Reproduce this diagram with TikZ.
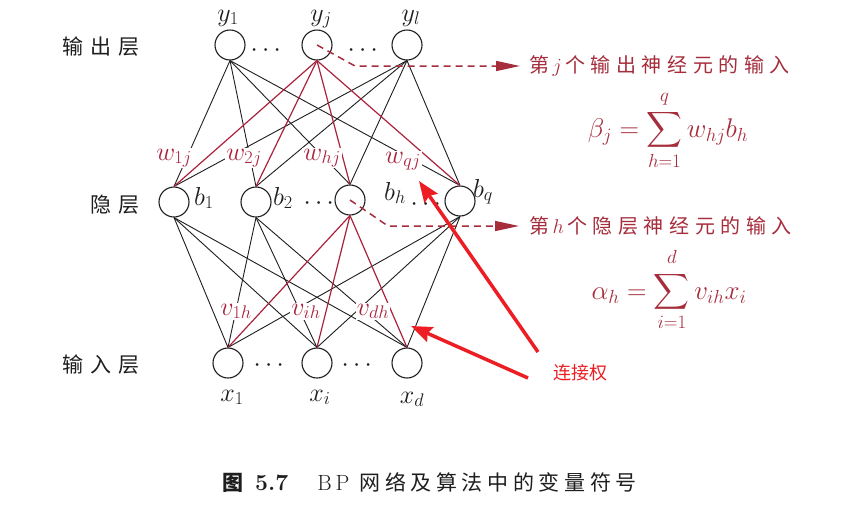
\RequirePackage{fix-cm}
\documentclass[tikz,border=0pt]{standalone}
\usepackage{fontspec}
\usepackage{amsmath}
\newfontfamily\cjkn{Noto Sans CJK SC}
\newfontfamily\cjka[LetterSpace=28]{Noto Sans CJK SC}
\newfontfamily\cjkl[LetterSpace=33]{Noto Sans CJK SC}
\newfontfamily\cjkc[LetterSpace=22]{Noto Sans CJK SC}
\usetikzlibrary{arrows.meta}
\definecolor{netred}{RGB}{170,35,60}
\definecolor{annred}{RGB}{165,45,60}
\definecolor{brightred}{RGB}{236,30,36}
\definecolor{ink}{RGB}{30,30,30}
\begin{document}
\begin{tikzpicture}[x=1pt,y=-1pt,
  neuron/.style={circle,draw=ink,line width=1.1pt,minimum size=30pt,inner sep=0pt},
  edge/.style={draw=ink,line width=0.9pt},
  redge/.style={draw=netred,line width=1.2pt},
  mlab/.style={font=\fontsize{26}{30}\selectfont,text=ink,inner sep=0pt,anchor=base},
  wlab/.style={font=\fontsize{26}{30}\selectfont,text=netred,fill=white,inner sep=1pt,anchor=base},
  dashedarrow/.style={draw=annred,line width=1.5pt,dash pattern=on 7pt off 5pt,-{Triangle[length=24pt,width=10pt]}},
  bigarrow/.style={draw=brightred,line width=3.5pt,-{Stealth[length=21pt,width=16pt,inset=3pt]}},
  layerlab/.style={font=\cjkl\fontsize{21}{24}\selectfont,text=ink,anchor=west,inner sep=0pt},
  anntext/.style={font=\cjka\fontsize{20}{24}\selectfont,text=annred,anchor=west,inner sep=0pt},
  formula/.style={text=annred,font=\fontsize{27}{30}\selectfont,anchor=base,inner sep=0pt}
]
\useasboundingbox (0,0) rectangle (841,507);
\fill[white] (0,0) rectangle (841,507);

% neurons
\node[neuron] (y1) at (230,45) {};
\node[neuron] (yj) at (317,45) {};
\node[neuron] (yl) at (407,45) {};
\node[neuron] (b1) at (174,202) {};
\node[neuron] (b2) at (256,202) {};
\node[neuron] (bh) at (350,200) {};
\node[neuron] (bq) at (460,201) {};
\node[neuron] (x1) at (228,363) {};
\node[neuron] (xi) at (317,363) {};
\node[neuron] (xd) at (407,363) {};

% edges
\foreach \o in {y1,yl} \foreach \h in {b1,b2,bh,bq} \draw[edge] (\o.south) -- (\h.north);
\foreach \h in {b1,b2,bq} \foreach \i in {x1,xi,xd} \draw[edge] (\h.south) -- (\i.north);
\foreach \h in {b1,b2,bh,bq} \draw[redge] (yj.south) -- (\h.north);
\foreach \i in {x1,xi,xd} \draw[redge] (bh.south) -- (\i.north);

% weight labels
\node[wlab] (w1) at (174,160) {$w_{1j}$};
\node[wlab] (w2) at (244,160) {$w_{2j}$};
\node[wlab] (wh) at (322,160) {$w_{hj}$};
\node[wlab] (wq) at (403,163) {$w_{qj}$};
\node[wlab] (v1) at (236,315) {$v_{1h}$};
\node[wlab] (vi) at (306,315) {$v_{ih}$};
\node[wlab] (vd) at (373,315) {$v_{dh}$};

% node labels
\node[mlab] (ly1) at (228,21) {$y_1$};
\node[mlab] (lyj) at (321,21) {$y_j$};
\node[mlab] (lyl) at (411,21) {$y_l$};
\node[mlab] (lb1) at (204,205) {$b_1$};
\node[mlab] (lb2) at (283,205) {$b_2$};
\node[mlab] (lbh) at (395,200) {$b_h$};
\node[mlab] (lbq) at (483,197) {$b_q$};
\node[mlab] (lx1) at (232,401) {$x_1$};
\node[mlab] (lxi) at (320,401) {$x_i$};
\node[mlab] (lxd) at (412,403) {$x_d$};

% dots
\node[mlab] (d1) at (268,56) {$\cdots$};
\node[mlab] (d2) at (365,56) {$\cdots$};
\node[mlab] (d3) at (321,209) {$\cdots$};
\node[mlab] (d4) at (428,210) {$\cdots$};
\node[mlab] (d5) at (271,371) {$\cdots$};
\node[mlab] (d6) at (359,371) {$\cdots$};

% layer labels
\node[layerlab] (L1) at (62,47) {输出层};
\node[layerlab] (L2) at (90,205) {隐层};
\node[layerlab] (L3) at (62,365) {输入层};

% dashed annotation arrows
\coordinate (k1) at (355,66);
\coordinate (t1) at (520,66);
\draw[dashedarrow] (yj.center) -- (k1) -- (t1);
\coordinate (k2) at (388,226);
\coordinate (t2) at (519,226);
\draw[dashedarrow] (bh.center) -- (k2) -- (t2);

\node[anntext] (a1) at (529,66) {第\,$j$\,个输出神经元的输入};
\node[anntext] (a2) at (529,226) {第\,$h$\,个隐层神经元的输入};

\node[formula] (f1) at (668,137) {$\displaystyle \beta_j=\sum_{h=1}^{\raisebox{4pt}{$\scriptstyle q$}} w_{hj}b_h$};
\node[formula] (f2) at (669,299) {$\displaystyle \alpha_h=\sum_{i=1}^{\raisebox{4pt}{$\scriptstyle d$}} v_{ih}x_i$};

% red arrows
\coordinate (ra1s) at (538,352);
\coordinate (ra1t) at (419,181);
\coordinate (ra2s) at (528,378);
\coordinate (ra2t) at (411,326);
\draw[bigarrow] (ra1s) -- (ra1t);
\draw[bigarrow] (ra2s) -- (ra2t);
\node[text=brightred,font=\cjkn\fontsize{18}{20}\selectfont,inner sep=0pt] (lj) at (580,373) {连接权};

% caption
\node[anchor=west,text=ink,inner sep=0pt] (cap) at (222,483) {{\cjkn\bfseries\fontsize{21}{24}\selectfont 图}\hspace{12pt}{\bfseries\fontsize{23}{26}\selectfont 5.7}\hspace{29pt}{\fontsize{22}{24}\selectfont B\kern4pt P}\hspace{10pt}{\cjkc\fontsize{21}{24}\selectfont 网络及算法中的变量符号}};
\end{tikzpicture}
\end{document}
